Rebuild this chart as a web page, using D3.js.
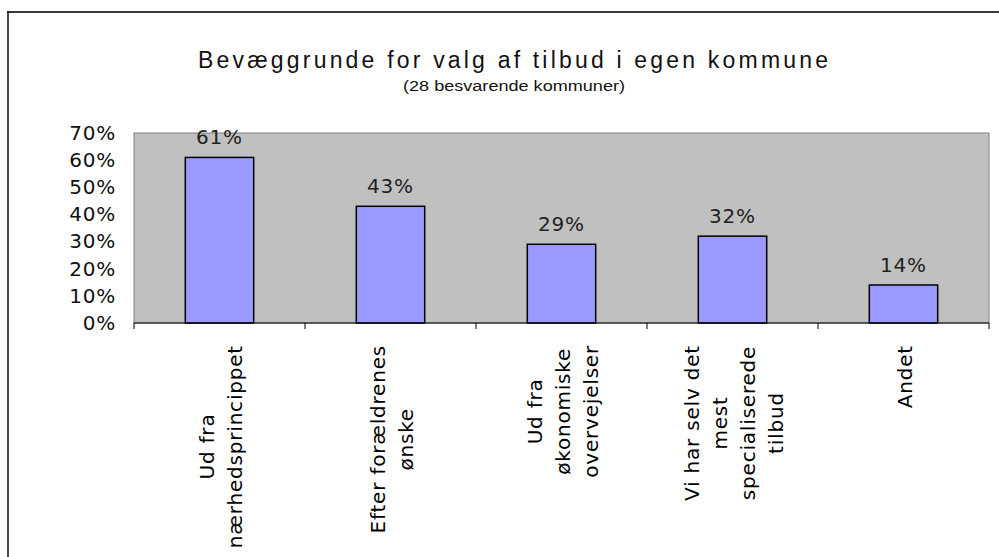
<!DOCTYPE html>
<html>
<head>
<meta charset="utf-8">
<script src="https://cdn.jsdelivr.net/npm/d3@7"></script>
<style>
  body { margin: 0; background: #fff; }
  svg { display: block; }
</style>
</head>
<body>
<div id="graph"></div>
<script>
const categories = ["nærhed", "forældre", "økonomi", "specialiseret", "andet"];
const values = [0.61, 0.43, 0.29, 0.32, 0.14];
const tickLabels = [
    ["Ud fra", "nærhedsprincippet"],
    ["Efter forældrenes", "ønske"],
    ["Ud fra", "økonomiske", "overvejelser"],
    ["Vi har selv det", "mest", "specialiserede", "tilbud"],
    ["Andet"]
];
const yTicks = [0, 0.1, 0.2, 0.3, 0.4, 0.5, 0.6, 0.7];
const title = "Bevæggrunde for valg af tilbud i egen kommune";
const subtitle = "(28 besvarende kommuner)";

const width = 999;
const height = 557;
const margin = {top: 133, right: 10, bottom: 234, left: 134};

const svg = d3.select("#graph").append("svg")
    .attr("width", width)
    .attr("height", height);

// outer frame (top + left edge visible)
svg.append("line")
    .attr("x1", 7).attr("x2", width).attr("y1", 12).attr("y2", 12)
    .attr("stroke", "#383838").attr("stroke-width", 2);
svg.append("line")
    .attr("x1", 8).attr("x2", 8).attr("y1", 11).attr("y2", height)
    .attr("stroke", "#111").attr("stroke-width", 1.5);

const x = d3.scaleBand()
    .domain(categories)
    .range([margin.left, 989])
    .paddingInner(0.6)
    .paddingOuter(0.3);

const y = d3.scaleLinear()
    .domain([0, 0.7])
    .range([323, margin.top]);

// plot area
svg.append("rect")
    .attr("x", x.range()[0])
    .attr("y", y(0.7))
    .attr("width", x.range()[1] - x.range()[0])
    .attr("height", y(0) - y(0.7))
    .attr("fill", "#c0c0c0")
    .attr("stroke", "#808080")
    .attr("stroke-width", 1);

// title
svg.append("text")
    .attr("x", 513).attr("y", 68)
    .attr("text-anchor", "middle")
    .attr("font-family", "Liberation Sans, Arial, sans-serif")
    .attr("font-size", 23)
    .attr("textLength", 630)
    .attr("lengthAdjust", "spacing")
    .attr("fill", "#111")
    .text(title);

svg.append("text")
    .attr("x", 514).attr("y", 91)
    .attr("text-anchor", "middle")
    .attr("font-family", "Liberation Sans, Arial, sans-serif")
    .attr("font-size", 14)
    .attr("textLength", 222)
    .attr("lengthAdjust", "spacingAndGlyphs")
    .attr("fill", "#111")
    .text(subtitle);

// y axis labels
const yAxis = d3.axisLeft(y)
    .tickValues(yTicks)
    .tickFormat(d3.format(".0%"))
    .tickSize(0)
    .tickPadding(18);

svg.append("g")
    .attr("transform", `translate(${margin.left},0)`)
    .call(yAxis)
    .call(g => g.select(".domain").remove())
    .call(g => g.selectAll("text")
        .attr("font-family", "DejaVu Sans, Verdana, sans-serif")
        .attr("font-size", 20)
        .attr("letter-spacing", 0.8)
        .attr("fill", "#111"));

// bars
svg.append("g")
    .selectAll("rect")
    .data(values)
    .join("rect")
        .attr("x", (d, i) => x(categories[i]))
        .attr("y", d => y(d))
        .attr("width", x.bandwidth())
        .attr("height", d => y(0) - y(d))
        .attr("fill", "#9999ff")
        .attr("stroke", "#000")
        .attr("stroke-width", 1.5);

// value labels
svg.append("g")
    .selectAll("text")
    .data(values)
    .join("text")
        .attr("x", (d, i) => x(categories[i]) + x.bandwidth() / 2)
        .attr("y", d => y(d) - 13)
        .attr("text-anchor", "middle")
        .attr("font-family", "DejaVu Sans, Verdana, sans-serif")
        .attr("font-size", 20)
        .attr("letter-spacing", 0.8)
        .attr("fill", "#222")
        .text(d => d3.format(".0%")(d));

// x axis: line with ticks at category boundaries
const step = x.step();
const bounds = d3.range(categories.length + 1).map(i => x.range()[0] + i * step);

svg.append("line")
    .attr("x1", x.range()[0]).attr("x2", x.range()[1])
    .attr("y1", y(0)).attr("y2", y(0))
    .attr("stroke", "#000").attr("stroke-width", 1);

svg.append("g")
    .selectAll("line")
    .data(bounds)
    .join("line")
        .attr("x1", d => d).attr("x2", d => d)
        .attr("y1", y(0)).attr("y2", y(0) + 6)
        .attr("stroke", "#000");

// category labels, rotated, centred lines
const lineH = 28;
const labels = svg.append("g")
    .selectAll("text")
    .data(tickLabels)
    .join("text")
        .attr("transform", (d, i) => {
            const cx = x(categories[i]) + x.bandwidth() / 2;
            return `translate(${cx},0) rotate(-90)`;
        })
        .attr("text-anchor", "middle")
        .attr("font-family", "DejaVu Sans, Verdana, sans-serif")
        .attr("font-size", 20)
        .attr("letter-spacing", 0.8)
        .attr("fill", "#000");

labels.each(function(lines) {
    const t = d3.select(this);
    lines.forEach((line, j) => {
        t.append("tspan")
            .attr("y", (j - (lines.length - 1) / 2) * lineH + 8)
            .text(line);
    });
});

// position the label blocks so their top (text end) sits just below the axis
labels.each(function() {
    const t = d3.select(this);
    let maxW = 0;
    t.selectAll("tspan").each(function() {
        maxW = Math.max(maxW, this.getComputedTextLength());
    });
    t.selectAll("tspan").attr("x", -(y(0) + 22 + maxW / 2));
});
</script>
</body>
</html>
